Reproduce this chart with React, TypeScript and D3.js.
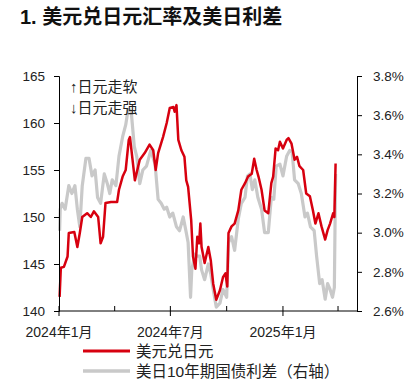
import { useRef, useEffect } from "react";
import * as d3 from "d3";

// 美元兑日元 (left axis)
const fxDates = [
  "2024-01-02", "2024-01-04", "2024-01-09", "2024-01-15", "2024-01-17", "2024-01-26", "2024-01-31",
  "2024-02-04", "2024-02-08", "2024-02-16", "2024-02-22", "2024-02-27", "2024-03-05", "2024-03-09",
  "2024-03-13", "2024-03-17", "2024-03-26", "2024-04-05", "2024-04-08", "2024-04-14", "2024-04-19",
  "2024-04-24", "2024-04-26", "2024-05-04", "2024-05-12", "2024-05-20", "2024-05-28", "2024-06-03",
  "2024-06-07", "2024-06-11", "2024-06-19", "2024-06-25", "2024-06-30", "2024-07-06", "2024-07-08",
  "2024-07-11", "2024-07-14", "2024-07-19", "2024-07-24", "2024-07-27", "2024-07-30", "2024-08-04",
  "2024-08-07", "2024-08-11", "2024-08-14", "2024-08-17", "2024-08-19", "2024-08-21", "2024-08-26",
  "2024-09-01", "2024-09-05", "2024-09-09", "2024-09-14", "2024-09-20", "2024-09-25", "2024-09-29",
  "2024-10-02", "2024-10-04", "2024-10-09", "2024-10-14", "2024-10-20", "2024-10-25", "2024-10-31",
  "2024-11-05", "2024-11-11", "2024-11-15", "2024-11-19", "2024-11-22", "2024-11-27", "2024-12-02",
  "2024-12-08", "2024-12-13", "2024-12-16", "2024-12-20", "2024-12-24", "2024-12-27", "2025-01-01",
  "2025-01-07", "2025-01-10", "2025-01-15", "2025-01-20", "2025-01-24", "2025-01-28", "2025-02-03",
  "2025-02-08", "2025-02-14", "2025-02-19", "2025-02-23", "2025-02-28", "2025-03-05", "2025-03-11",
  "2025-03-15", "2025-03-19", "2025-03-24", "2025-03-26", "2025-03-28",
];
const fxValues = [
  141.5, 144.6, 144.7, 145.8, 148.3, 148.4, 146.8,
  148.3, 150.0, 150.4, 150.0, 150.6, 150.0, 147.2,
  147.9, 151.5, 151.6, 151.6, 152.9, 154.3, 155.0,
  158.2, 158.5, 153.9, 156.1, 156.8, 157.7, 157.1,
  155.0, 156.8, 158.5, 160.0, 161.6, 161.7, 161.2,
  161.9, 158.2, 157.1, 156.4, 153.9, 153.2, 149.7,
  145.8, 144.5, 147.9, 147.2, 149.3, 146.8, 145.1,
  146.8, 145.4, 142.9, 141.2, 142.2, 143.6, 144.0,
  142.6, 148.3, 149.0, 149.3, 150.7, 152.9, 153.6,
  154.3, 154.6, 156.2, 155.0, 154.3, 152.9, 150.7,
  150.4, 153.6, 154.3, 157.3, 157.1, 158.0, 157.3,
  158.2, 158.4, 157.8, 156.1, 156.4, 155.4, 155.0,
  152.5, 152.2, 150.7, 149.3, 150.4, 149.0, 147.6,
  148.6, 149.3, 150.4, 150.0, 155.7,
];

// 美日10年期国债利差 (right axis, %)
const spreadDates = [
  "2024-01-02", "2024-01-03", "2024-01-06", "2024-01-11", "2024-01-17", "2024-01-22", "2024-01-27",
  "2024-01-31", "2024-02-04", "2024-02-08", "2024-02-14", "2024-02-19", "2024-02-24", "2024-02-29",
  "2024-03-04", "2024-03-09", "2024-03-15", "2024-03-20", "2024-03-24", "2024-03-28", "2024-04-03",
  "2024-04-08", "2024-04-14", "2024-04-19", "2024-04-23", "2024-04-28", "2024-05-03", "2024-05-07",
  "2024-05-12", "2024-05-17", "2024-05-23", "2024-05-30", "2024-06-06", "2024-06-11", "2024-06-16",
  "2024-06-21", "2024-06-25", "2024-06-30", "2024-07-05", "2024-07-11", "2024-07-16", "2024-07-22",
  "2024-07-27", "2024-07-30", "2024-08-03", "2024-08-05", "2024-08-10", "2024-08-14", "2024-08-18",
  "2024-08-21", "2024-08-26", "2024-09-01", "2024-09-05", "2024-09-09", "2024-09-14", "2024-09-20",
  "2024-09-25", "2024-10-01", "2024-10-04", "2024-10-09", "2024-10-14", "2024-10-20", "2024-10-25",
  "2024-10-31", "2024-11-04", "2024-11-08", "2024-11-12", "2024-11-16", "2024-11-21", "2024-11-27",
  "2024-12-02", "2024-12-08", "2024-12-13", "2024-12-17", "2024-12-21", "2024-12-27", "2025-01-01",
  "2025-01-07", "2025-01-12", "2025-01-16", "2025-01-20", "2025-01-26", "2025-01-31", "2025-02-06",
  "2025-02-10", "2025-02-15", "2025-02-21", "2025-02-25", "2025-03-02", "2025-03-06", "2025-03-11",
  "2025-03-15", "2025-03-19", "2025-03-23", "2025-03-26", "2025-03-28",
];
const spreadValues = [
  3.01, 3.12, 3.15, 3.12, 3.24, 3.20, 3.24,
  3.12, 3.03, 3.24, 3.38, 3.38, 3.29, 3.32,
  3.18, 3.15, 3.30, 3.25, 3.20, 3.27, 3.24,
  3.39, 3.49, 3.55, 3.63, 3.62, 3.44, 3.39,
  3.25, 3.32, 3.34, 3.42, 3.35, 3.17, 3.15,
  3.12, 3.13, 3.08, 3.10, 3.03, 3.01, 3.08,
  3.00, 2.95, 2.67, 2.81, 2.89, 2.88, 2.88,
  2.81, 2.76, 2.84, 2.79, 2.71, 2.62, 2.64,
  2.71, 2.67, 2.95, 2.98, 2.91, 3.07, 3.15,
  3.18, 3.29, 3.30, 3.22, 3.27, 3.18, 3.12,
  3.00, 3.00, 3.18, 3.17, 3.34, 3.35, 3.29,
  3.39, 3.42, 3.41, 3.27, 3.25, 3.20, 3.08,
  3.10, 3.03, 3.01, 2.88, 2.74, 2.76, 2.66,
  2.74, 2.71, 2.67, 2.72, 3.30,
];

const leftTicks = [140, 145, 150, 155, 160, 165];
const rightTicks = [2.6, 2.8, 3.0, 3.2, 3.4, 3.6, 3.8];
const majorTicks = ["2024-01-01", "2024-07-01", "2025-01-01"];
const minorTicks = ["2024-04-01", "2024-10-01", "2025-04-01"];

const title = "1. 美元兑日元汇率及美日利差";
const notes = ["↑日元走软", "↓日元走强"];
const legendNames = ["美元兑日元", "美日10年期国债利差（右轴）"];

const RED = "#d7000f";
const GRAY = "#c9c9c9";
const FONT = "'Liberation Sans', Arial, 'Noto Sans CJK SC', sans-serif";

function drawChart(svgRef: { current: SVGSVGElement | null }) {
  const width = 414,
    height = 386;
  const left = 59, right = 357, top = 76, bottom = 311;

  const parse = d3.utcParse("%Y-%m-%d");

  let svg = d3.select(svgRef.current);
  svg.selectAll("*").remove();
  svg = svg.attr("viewBox", `0 0 ${width} ${height}`)
    .attr("width", width)
    .attr("height", height)
    .style("font-family", FONT);

  const x = d3.scaleUtc()
    .domain([parse("2024-01-01")!, parse("2025-05-02")!])
    .range([left, right]);
  const yL = d3.scaleLinear().domain([140, 165]).range([bottom, top]);
  const yR = d3.scaleLinear().domain([2.6, 3.8]).range([bottom, top]);

  svg.append("text")
    .attr("x", 20).attr("y", 24)
    .attr("font-size", 20).attr("font-weight", "bold")
    .attr("fill", "#111")
    .text(title);

  const fx = fxDates.map((d, i) => ({ date: parse(d)!, value: fxValues[i] }));
  const sp = spreadDates.map((d, i) => ({ date: parse(d)!, value: spreadValues[i] }));

  const lineL = d3.line<{ date: Date; value: number }>().x(d => x(d.date)).y(d => yL(d.value));
  const lineR = d3.line<{ date: Date; value: number }>().x(d => x(d.date)).y(d => yR(d.value));

  svg.append("path").datum(sp)
    .attr("d", lineR).attr("fill", "none")
    .attr("stroke", GRAY).attr("stroke-width", 3.2).attr("stroke-linejoin", "round");
  svg.append("path").datum(fx)
    .attr("d", lineL).attr("fill", "none")
    .attr("stroke", RED).attr("stroke-width", 2.5).attr("stroke-linejoin", "round");

  // axes
  const axL = svg.append("g").attr("transform", `translate(${left},0)`)
    .call(d3.axisLeft(yL).tickValues(leftTicks).tickSize(5).tickSizeOuter(5).tickPadding(9));
  const axR = svg.append("g").attr("transform", `translate(${right},0)`)
    .call(d3.axisRight(yR).tickValues(rightTicks).tickSize(5).tickSizeOuter(5).tickPadding(11)
      .tickFormat(d => `${(+d).toFixed(1)}%`));
  [axL, axR].forEach(g => {
    g.selectAll("path,line").attr("stroke", "#000");
    g.selectAll("text").attr("font-size", 13.5).attr("fill", "#222").attr("font-family", FONT);
  });

  const axB = svg.append("g");
  axB.append("line")
    .attr("x1", left).attr("x2", right).attr("y1", bottom).attr("y2", bottom)
    .attr("stroke", "#000");
  axB.selectAll(".major").data(majorTicks).join("line")
    .attr("x1", d => x(parse(d)!)).attr("x2", d => x(parse(d)!))
    .attr("y1", bottom - 5).attr("y2", bottom + 5).attr("stroke", "#000");
  axB.selectAll(".minor").data(minorTicks).join("line")
    .attr("x1", d => x(parse(d)!)).attr("x2", d => x(parse(d)!))
    .attr("y1", bottom - 5).attr("y2", bottom).attr("stroke", "#000");
  axB.selectAll("text").data(majorTicks).join("text")
    .attr("x", d => x(parse(d)!)).attr("y", 337)
    .attr("text-anchor", "middle").attr("font-size", 14).attr("fill", "#222")
    .text(d => d3.utcFormat("%Y年%-m月")(parse(d)!));

  // annotation
  svg.selectAll(".note").data(notes).join("text")
    .attr("x", 70).attr("y", (d, i) => 92 + i * 21)
    .attr("font-size", 15).attr("fill", "#222")
    .text(d => d);

  // legend
  const lg = svg.append("g");
  lg.selectAll("line").data(legendNames).join("line")
    .attr("x1", 83).attr("x2", 130)
    .attr("y1", (d, i) => 351 + i * 20).attr("y2", (d, i) => 351 + i * 20)
    .attr("stroke", (d, i) => i === 0 ? RED : GRAY)
    .attr("stroke-width", (d, i) => i === 0 ? 3 : 3.5);
  lg.selectAll("text").data(legendNames).join("text")
    .attr("x", 136).attr("y", (d, i) => 357 + i * 20)
    .attr("font-size", 15.5).attr("fill", "#222")
    .text(d => d);
}

export default function App() {
  const svg = useRef<SVGSVGElement | null>(null);
  useEffect(() => {
    drawChart(svg);
  }, [svg]);

  return <svg ref={svg} style={{ position: "absolute", left: 0, top: 0, background: "#fff" }} />;
}
